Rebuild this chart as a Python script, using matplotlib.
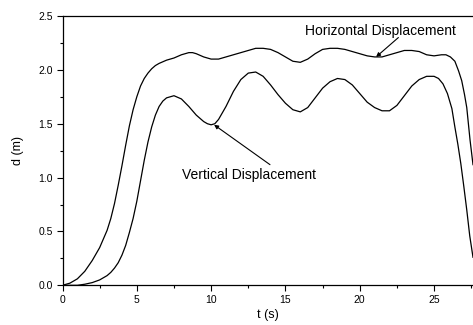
import matplotlib
matplotlib.use("Agg")
import matplotlib.pyplot as plt
from matplotlib.ticker import MultipleLocator, FormatStrFormatter

plt.rcParams['font.family'] = ['Liberation Sans', 'DejaVu Sans']

# Horizontal displacement (t in s, d in m)
t_h = [0, 0.5, 1.0, 1.5, 2.0, 2.5, 3.0, 3.25, 3.5, 3.75, 4.0, 4.25, 4.5, 4.75, 5.0,
       5.25, 5.5, 5.75, 6.0, 6.25, 6.5, 7.0, 7.5, 8.0, 8.5, 8.75, 9.0, 9.5, 10.0, 10.5,
       11.0, 11.5, 12.0, 12.5, 13.0, 13.5, 14.0, 14.5, 15.0, 15.5, 16.0, 16.5, 17.0,
       17.5, 18.0, 18.5, 19.0, 19.5, 20.0, 20.5, 21.0, 21.5, 22.0, 22.5, 23.0, 23.5,
       24.0, 24.5, 25.0, 25.5, 25.8, 26.1, 26.4, 26.65, 26.86, 27.05, 27.2, 27.42, 27.62]
d_h = [0.0, 0.02, 0.06, 0.13, 0.23, 0.35, 0.51, 0.62, 0.76, 0.93, 1.11, 1.30, 1.48, 1.63,
       1.75, 1.85, 1.92, 1.97, 2.01, 2.04, 2.06, 2.09, 2.11, 2.14, 2.16, 2.16, 2.15, 2.12,
       2.10, 2.10, 2.12, 2.14, 2.16, 2.18, 2.20, 2.20, 2.19, 2.16, 2.12, 2.08, 2.07, 2.10,
       2.15, 2.19, 2.20, 2.20, 2.19, 2.17, 2.15, 2.13, 2.12, 2.12, 2.14, 2.16, 2.18, 2.18,
       2.17, 2.14, 2.13, 2.14, 2.14, 2.12, 2.08, 1.99, 1.90, 1.77, 1.65, 1.35, 1.12]

# Vertical displacement
t_v = [0, 1.0, 1.5, 2.0, 2.5, 3.0, 3.25, 3.5, 3.75, 4.0, 4.25, 4.5, 4.75, 5.0, 5.25,
       5.5, 5.75, 6.0, 6.25, 6.5, 6.75, 7.0, 7.5, 8.0, 8.5, 9.0, 9.5, 9.75, 10.0, 10.25,
       10.5, 11.0, 11.5, 12.0, 12.5, 13.0, 13.5, 14.0, 14.5, 15.0, 15.5, 16.0, 16.5,
       17.0, 17.5, 18.0, 18.5, 19.0, 19.5, 20.0, 20.5, 21.0, 21.5, 22.0, 22.5, 23.0,
       23.5, 24.0, 24.5, 25.0, 25.3, 25.6, 25.9, 26.2, 26.4, 26.6, 26.8, 27.0, 27.2,
       27.4, 27.62]
d_v = [0.0, 0.0, 0.01, 0.025, 0.05, 0.09, 0.12, 0.16, 0.21, 0.28, 0.37, 0.49, 0.62, 0.78,
       0.97, 1.16, 1.33, 1.47, 1.58, 1.66, 1.71, 1.74, 1.76, 1.73, 1.66, 1.58, 1.52, 1.50,
       1.49, 1.50, 1.54, 1.66, 1.80, 1.91, 1.97, 1.98, 1.94, 1.86, 1.77, 1.69, 1.63, 1.61,
       1.65, 1.74, 1.83, 1.89, 1.92, 1.91, 1.86, 1.78, 1.70, 1.65, 1.62, 1.62, 1.67, 1.76,
       1.85, 1.91, 1.94, 1.94, 1.92, 1.87, 1.78, 1.64, 1.47, 1.31, 1.13, 0.92, 0.70, 0.46,
       0.26]

x_ticks = [0, 5, 10, 15, 20, 25]
y_ticks = [0.0, 0.5, 1.0, 1.5, 2.0, 2.5]

fig = plt.figure(figsize=(4.73, 3.25), dpi=100)
ax = fig.add_axes([62.5 / 473, (325 - 285.3) / 325, 1 - 62.5 / 473, (285.3 - 16) / 325])

ax.plot(t_h, d_h, color='black', lw=0.9)
ax.plot(t_v, d_v, color='black', lw=0.9)

ax.set_xlim(0, 27.62)
ax.set_ylim(0, 2.5)
ax.spines['right'].set_visible(False)
for s in ['left', 'bottom', 'top']:
    ax.spines[s].set_linewidth(0.9)

ax.set_xticks(x_ticks)
ax.set_yticks(y_ticks)
ax.xaxis.set_minor_locator(MultipleLocator(2.5))
ax.yaxis.set_minor_locator(MultipleLocator(0.25))
ax.tick_params(which='major', direction='out', length=4.5, width=0.8, labelsize=7.5,
               colors='black', pad=2.5)
ax.tick_params(which='minor', direction='out', length=2.5, width=0.8)
ax.yaxis.set_major_formatter(FormatStrFormatter('%.1f'))

ax.set_xlabel('t (s)', fontsize=9, labelpad=3)
ax.set_ylabel('d (m)', fontsize=9, labelpad=10)

ax.text(21.37, 2.36, 'Horizontal Displacement', fontsize=10, ha='center', va='center')
ax.annotate('', xy=(21.1, 2.12), xytext=(22.6, 2.30),
            arrowprops=dict(arrowstyle='-|>', color='black', lw=0.8,
                            mutation_scale=6, shrinkA=0, shrinkB=0))
ax.text(12.55, 1.025, 'Vertical Displacement', fontsize=10, ha='center', va='center')
ax.annotate('', xy=(10.2, 1.49), xytext=(13.96, 1.12),
            arrowprops=dict(arrowstyle='-|>', color='black', lw=0.8,
                            mutation_scale=6, shrinkA=0, shrinkB=0))

fig.savefig('out.png', dpi=100)
